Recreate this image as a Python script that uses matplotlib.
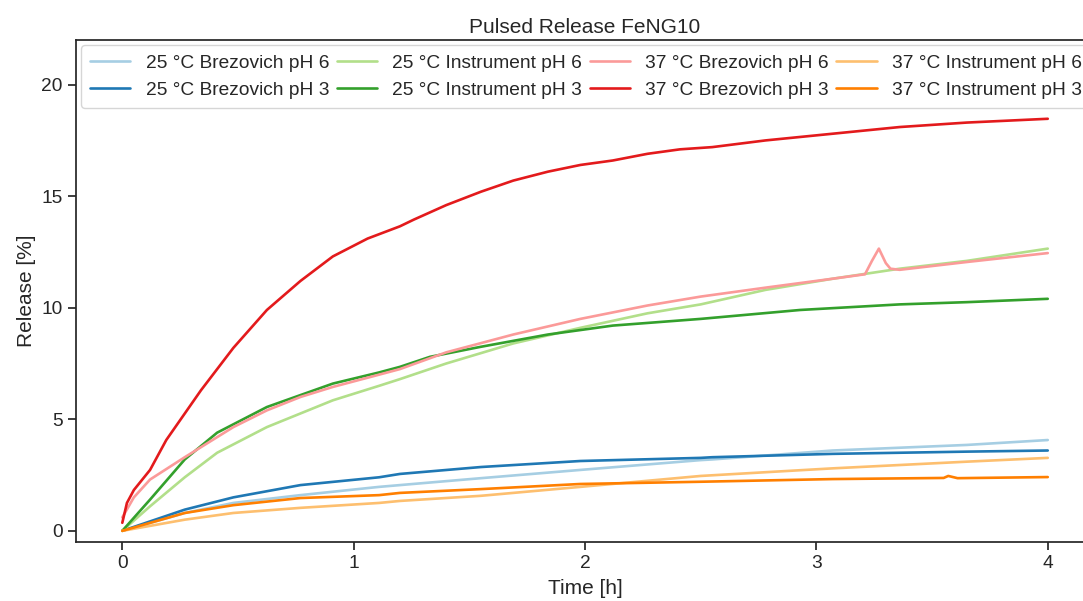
import numpy as np
import seaborn as sns
from matplotlib import pyplot as plt

sns.set_theme(context="notebook", style="ticks", font_scale=1.25)
plt.rcParams["font.family"] = ["Liberation Sans", "DejaVu Sans"]

# values (time in h, release in %)
t_b25_ph6 = [0, 0.27, 0.48, 0.77, 1.11, 1.2, 1.55, 1.98, 2.5, 2.55, 3.07, 3.65, 4.0]
y_b25_ph6 = [0, 0.8, 1.25, 1.6, 1.97, 2.05, 2.36, 2.73, 3.17, 3.2, 3.6, 3.85, 4.07]

t_b25_ph3 = [0, 0.27, 0.48, 0.77, 1.11, 1.2, 1.55, 1.98, 2.5, 2.55, 3.07, 3.65, 4.0]
y_b25_ph3 = [0, 0.95, 1.5, 2.05, 2.4, 2.55, 2.86, 3.13, 3.27, 3.3, 3.45, 3.55, 3.6]

t_i25_ph6 = [0, 0.12, 0.27, 0.41, 0.625, 0.91, 1.11, 1.2, 1.4, 1.69, 1.98, 2.27, 2.5, 2.78, 3.07, 3.36, 3.65, 4.0]
y_i25_ph6 = [0, 1.1, 2.4, 3.5, 4.65, 5.85, 6.5, 6.8, 7.5, 8.4, 9.1, 9.75, 10.15, 10.8, 11.3, 11.75, 12.1, 12.65]

t_i25_ph3 = [0, 0.12, 0.27, 0.41, 0.625, 0.91, 1.11, 1.2, 1.33, 1.55, 1.84, 2.12, 2.5, 2.93, 3.36, 3.65, 4.0]
y_i25_ph3 = [0, 1.4, 3.2, 4.4, 5.55, 6.6, 7.1, 7.35, 7.8, 8.25, 8.8, 9.2, 9.5, 9.9, 10.15, 10.25, 10.4]

t_b37_ph6 = [0, 0.05, 0.12, 0.27, 0.48, 0.625, 0.77, 0.91, 1.11, 1.2, 1.4, 1.69, 1.98, 2.27, 2.5, 2.78, 3.07,
             3.21, 3.24, 3.27, 3.3, 3.32, 3.36, 3.65, 4.0]
y_b37_ph6 = [0.6, 1.5, 2.3, 3.3, 4.65, 5.4, 6.0, 6.45, 7.0, 7.25, 8.0, 8.8, 9.5, 10.1, 10.5, 10.9, 11.3,
             11.5, 12.1, 12.65, 12.0, 11.75, 11.7, 12.05, 12.45]

t_b37_ph3 = [0, 0.02, 0.05, 0.12, 0.19, 0.34, 0.48, 0.625, 0.77, 0.91, 1.06, 1.2, 1.26, 1.4, 1.55, 1.69, 1.84,
             1.98, 2.12, 2.27, 2.41, 2.55, 2.78, 3.07, 3.36, 3.65, 4.0]
y_b37_ph3 = [0.36, 1.25, 1.83, 2.73, 4.07, 6.3, 8.2, 9.9, 11.2, 12.3, 13.1, 13.65, 13.95, 14.6, 15.2, 15.7, 16.1,
             16.4, 16.6, 16.9, 17.1, 17.2, 17.5, 17.8, 18.1, 18.3, 18.47]

t_i37_ph6 = [0, 0.27, 0.48, 0.77, 1.11, 1.2, 1.55, 1.98, 2.5, 3.07, 3.65, 4.0]
y_i37_ph6 = [0, 0.5, 0.8, 1.03, 1.25, 1.34, 1.57, 1.97, 2.46, 2.8, 3.1, 3.27]

t_i37_ph3 = [0, 0.27, 0.48, 0.77, 1.11, 1.2, 1.55, 1.98, 2.5, 3.07, 3.55, 3.57, 3.61, 4.0]
y_i37_ph3 = [0, 0.8, 1.15, 1.47, 1.6, 1.7, 1.87, 2.1, 2.2, 2.32, 2.37, 2.46, 2.36, 2.41]

labels = ["25 °C Brezovich pH 6", "25 °C Brezovich pH 3", "25 °C Instrument pH 6", "25 °C Instrument pH 3",
          "37 °C Brezovich pH 6", "37 °C Brezovich pH 3", "37 °C Instrument pH 6", "37 °C Instrument pH 3"]
series = [(t_b25_ph6, y_b25_ph6), (t_b25_ph3, y_b25_ph3), (t_i25_ph6, y_i25_ph6), (t_i25_ph3, y_i25_ph3),
          (t_b37_ph6, y_b37_ph6), (t_b37_ph3, y_b37_ph3), (t_i37_ph6, y_i37_ph6), (t_i37_ph3, y_i37_ph3)]

colors = sns.color_palette("Paired", 8)

fig = plt.figure(figsize=(10.83, 6.01), dpi=100)
ax = fig.add_axes([0.0702, 0.0982, 0.94, 0.8352])

for (t, y), lab, c in zip(series, labels, colors):
    ax.plot(t, y, color=c, lw=1.9, label=lab)

ax.set_xlim(-0.2, 4.2)
ax.set_ylim(-0.5, 22)
ax.set_xticks([0, 1, 2, 3, 4])
ax.set_yticks([0, 5, 10, 15, 20])

ax.set_xlabel("Time [h]", labelpad=5)
ax.set_ylabel("Release [%]")
ax.set_title("Pulsed Release FeNG10", pad=5)

ax.legend(loc="upper left", ncol=4, handlelength=2.1, columnspacing=0.4,
          handletextpad=0.8, borderaxespad=0.25, borderpad=0.5, labelspacing=0.5)

fig.savefig("out.png", dpi=100)
